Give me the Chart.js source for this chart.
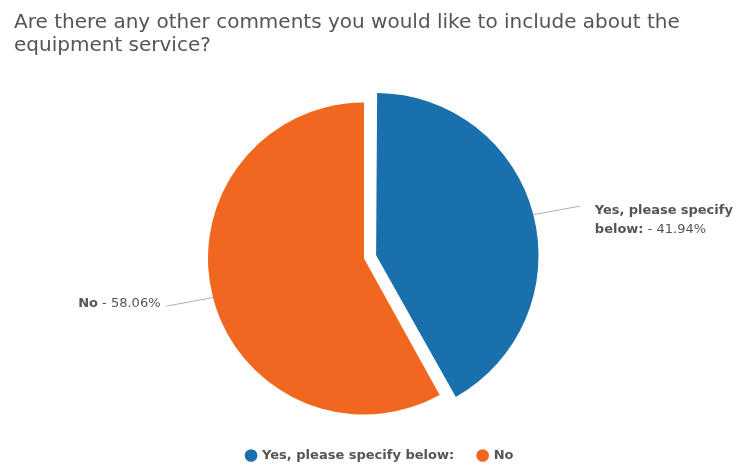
<!DOCTYPE html>
<html>
<head>
<meta charset="utf-8">
<script src="https://cdn.jsdelivr.net/npm/chart.js@4.4.0/dist/chart.umd.min.js"></script>
<style>
  html, body { margin: 0; padding: 0; background: #fff; }
  #wrap { width: 738px; height: 466px; }
</style>
</head>
<body>
<div id="wrap"><canvas id="myChart"></canvas></div>
<script>
// Survey answers (percent of respondents)
const answers = ['Yes, please specify below:', 'No'];
const shares = [41.94, 58.06];
const sliceColors = ['#1a6fad', '#f1671f'];
const sliceOffsets = [50, 0];
const question = ['Are there any other comments you would like to include about the', 'equipment service?'];

const textGray = '#555555';
const fontFamily = 'DejaVu Sans, sans-serif';

// Draws "name - value%" next to each slice with a thin leader line
const leaderLabels = {
  id: 'leaderLabels',
  afterLayout(chart) {
    // legend row sits a bit right of the pie centre
    chart.legend.left += 16;
    chart.legend.right += 16;
  },
  afterDatasetsDraw(chart) {
    const ctx = chart.ctx;
    const meta = chart.getDatasetMeta(0);
    const values = chart.data.datasets[0].data;
    meta.data.forEach((arc, i) => {
      const p = arc.getProps(['x', 'y', 'startAngle', 'endAngle', 'outerRadius', 'circumference'], true);
      // ArcElement shifts an offset slice by offset/4 and grows it by offset/4 * fix
      const shift = (arc.options.offset || 0) / 4;
      const fix = 1 - Math.sin(Math.min(Math.PI, p.circumference || 0));
      const r = p.outerRadius + shift * fix;
      const mid = (p.startAngle + p.endAngle) / 2;
      const cos = Math.cos(mid), sin = Math.sin(mid);
      const sx = p.x + cos * (shift + r), sy = p.y + sin * (shift + r);
      const ex = sx + cos * 48, ey = sy + sin * 34;
      const right = cos >= 0;

      ctx.save();
      ctx.strokeStyle = '#9bb3c2';
      ctx.lineWidth = 1;
      ctx.beginPath();
      ctx.moveTo(sx, sy);
      ctx.lineTo(ex, ey);
      ctx.stroke();

      // word runs: bold name, normal value
      const bold = 'bold 13px ' + fontFamily;
      const normal = '13px ' + fontFamily;
      const runs = [];
      chart.data.labels[i].split(' ').forEach(w => runs.push({ t: w, f: bold }));
      runs.push({ t: '-', f: normal });
      runs.push({ t: values[i].toFixed(2) + '%', f: normal });

      const maxW = 150;
      const lines = [[]];
      let lineW = 0;
      ctx.font = normal;
      const space = ctx.measureText(' ').width;
      runs.forEach(run => {
        ctx.font = run.f;
        run.w = ctx.measureText(run.t).width;
        const add = (lines[lines.length - 1].length ? space : 0) + run.w;
        if (lineW + add > maxW && lines[lines.length - 1].length) {
          lines.push([run]);
          lineW = run.w;
        } else {
          lines[lines.length - 1].push(run);
          lineW += add;
        }
      });

      const lh = 19;
      const tx = right ? ex + 15 : ex - 6;
      let ty = lines.length > 1 ? ey + 4 : ey - 2;
      ctx.fillStyle = textGray;
      ctx.textBaseline = 'middle';
      ctx.textAlign = 'left';
      lines.forEach(line => {
        const w = line.reduce((s, run, k) => s + run.w + (k ? space : 0), 0);
        let x = right ? tx : tx - w;
        line.forEach(run => {
          ctx.font = run.f;
          ctx.fillText(run.t, x, ty);
          x += run.w + space;
        });
        ty += lh;
      });
      ctx.restore();
    });
  }
};

const context = document.getElementById('myChart').getContext('2d');
const myChart = new Chart(context, {
  type: 'pie',
  data: {
    labels: answers,
    datasets: [{
      data: shares,
      backgroundColor: sliceColors,
      offset: sliceOffsets,
      borderWidth: 0
    }]
  },
  options: {
    responsive: true,
    maintainAspectRatio: false,
    animation: false,
    radius: 156,
    layout: { padding: { left: 14, right: 24, top: 0, bottom: -6 } },
    plugins: {
      title: {
        display: true,
        text: question,
        align: 'start',
        color: textGray,
        font: { family: fontFamily, size: 20, weight: 'normal', lineHeight: 1.15 },
        padding: { top: 11, bottom: 35 }
      },
      legend: {
        position: 'bottom',
        labels: {
          usePointStyle: true,
          pointStyle: 'circle',
          boxWidth: 9,
          boxHeight: 9,
          padding: 24,
          color: textGray,
          font: { family: fontFamily, size: 13, weight: 'bold' }
        }
      },
      tooltip: { enabled: false }
    }
  },
  plugins: [leaderLabels]
});
</script>
</body>
</html>
